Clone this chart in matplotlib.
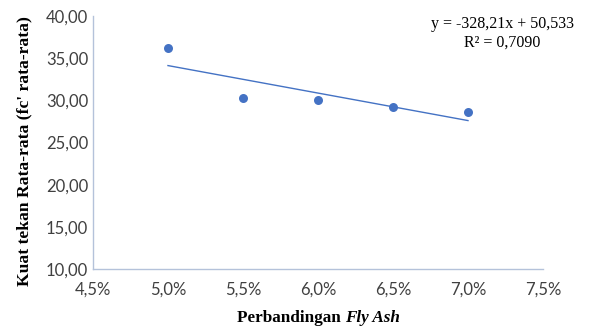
import matplotlib
matplotlib.use("Agg")
import matplotlib.pyplot as plt
import numpy as np
from matplotlib.ticker import FuncFormatter

# Data
fly_ash = [0.050, 0.055, 0.060, 0.065, 0.070]
kuat_tekan = [36.2, 30.3, 30.0, 29.2, 28.6]
x_ticks = [0.045, 0.050, 0.055, 0.060, 0.065, 0.070, 0.075]
y_ticks = [10, 15, 20, 25, 30, 35, 40]
equation_text = "y = -328,21x + 50,533"
r2_text = "R² = 0,7090"

blue = "#4472C4"
spine_col = "#B4C2DA"

fig = plt.figure(figsize=(5.9, 3.29), dpi=100)
ax = fig.add_axes([0.1576, 0.1824, 0.7627, 0.769])

ax.scatter(fly_ash, kuat_tekan, s=42, color=blue, zorder=3, linewidths=0)

coef = np.polyfit(fly_ash, kuat_tekan, 1)
xf = np.array([min(fly_ash), max(fly_ash)])
ax.plot(xf, np.polyval(coef, xf), color=blue, lw=1.0, zorder=2)

ax.set_xlim(0.045, 0.075)
ax.set_ylim(10, 40)
ax.set_xticks(x_ticks)
ax.set_yticks(y_ticks)
ax.xaxis.set_major_formatter(FuncFormatter(lambda v, p: f"{v*100:.1f}%".replace(".", ",")))
ax.yaxis.set_major_formatter(FuncFormatter(lambda v, p: f"{v:.2f}".replace(".", ",")))
ax.tick_params(length=0, labelsize=12, colors="#404040")
ax.tick_params(axis="x", pad=9)
ax.tick_params(axis="y", pad=3.5)
for lab in ax.get_xticklabels() + ax.get_yticklabels():
    lab.set_family("Lato")

for s in ["top", "right"]:
    ax.spines[s].set_visible(False)
for s in ["left", "bottom"]:
    ax.spines[s].set_color(spine_col)
    ax.spines[s].set_linewidth(1.0)

ax.set_ylabel("Kuat tekan Rata-rata (fc' rata-rata)", family="Liberation Serif",
              fontweight="bold", fontsize=12.6)
ax.yaxis.set_label_coords(-0.135, 0.466)

t1 = fig.text(0.401, 0.010, "Perbandingan ", family="Liberation Serif",
              fontweight="bold", fontsize=12.3, ha="left", va="bottom")
ax.annotate("Fly Ash", xy=(1, 0), xycoords=t1, va="bottom", ha="left",
            family="Liberation Serif", fontweight="bold", fontstyle="italic", fontsize=12.3)

fig.text(0.851, 0.95, equation_text + "\n" + r2_text, family="Liberation Serif",
         fontsize=11.5, ha="center", va="top", linespacing=1.2)

fig.savefig("out.png", dpi=100)
